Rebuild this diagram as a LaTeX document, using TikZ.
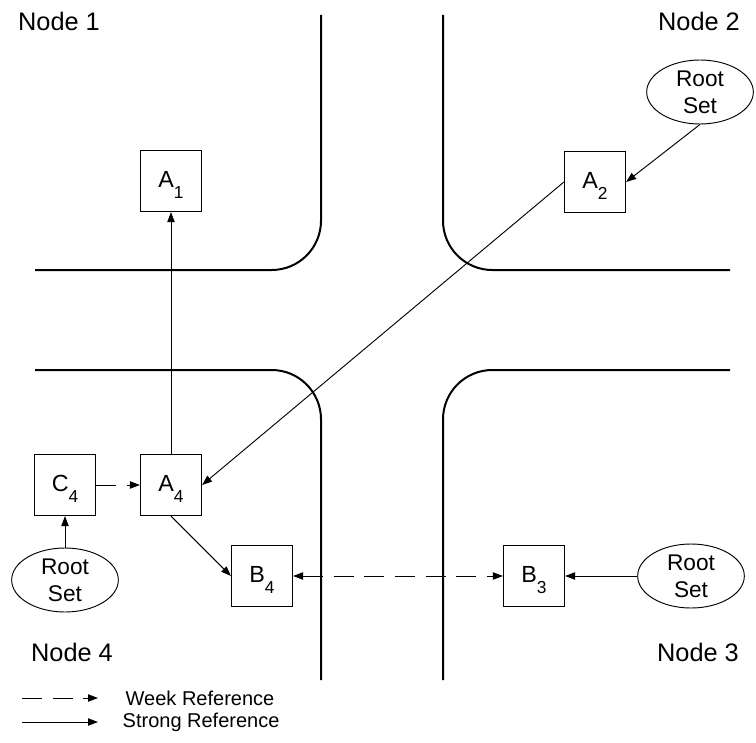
\documentclass[tikz,border=0pt]{standalone}
\usepackage{fontspec}
\setmainfont{Liberation Sans}
\usepackage{tikz}
\usetikzlibrary{arrows.meta,shapes.geometric}

\newcommand{\subidx}[1]{\raisebox{-8.5pt}{\fontsize{13}{13}\selectfont #1}}

\tikzset{
    box/.style={draw,line width=0.9pt,minimum size=45.75pt,inner sep=0pt,
        text height=14pt,text depth=5pt,font=\fontsize{17.5}{20}\selectfont},
    rootset/.style={draw,ellipse,line width=0.7pt,minimum width=80pt,
        minimum height=48pt,inner sep=0pt,align=center,
        font=\fontsize{17}{20}\selectfont},
    quadname/.style={font=\fontsize{19}{23}\selectfont},
    legendtext/.style={anchor=west,font=\fontsize{15}{18}\selectfont},
    wall/.style={line width=1.5pt,rounded corners=37pt},
    strongref/.style={line width=0.7pt,-{Triangle[length=7.5pt,width=5.5pt]}},
    weakref/.style={strongref,dash pattern=on 15pt off 8pt}
}

\begin{document}
\begin{tikzpicture}[x=0.75pt,y=-0.75pt]
    \useasboundingbox (0,0) rectangle (756,742);
    \draw[wall] (321,15) -- (321,270) -- (35,270);
    \draw[wall] (443,15) -- (443,270) -- (730,270);
    \draw[wall] (35,370) -- (321,370) -- (321,680);
    \draw[wall] (730,370) -- (443,370) -- (443,680);
    \node[quadname] (n1) at (59,21) {Node 1};
    \node[quadname] (n2) at (699,21) {Node 2};
    \node[quadname] (n3) at (698,652) {Node 3};
    \node[quadname] (n4) at (72,652) {Node 4};
    \node[box] (A1) at (171,181) {A\subidx{1}};
    \node[box] (A2) at (595,182) {A\subidx{2}};
    \node[box] (C4) at (65,485) {C\subidx{4}};
    \node[box] (A4) at (171,485) {A\subidx{4}};
    \node[box] (B4) at (262,576) {B\subidx{4}};
    \node[box] (B3) at (534,576) {B\subidx{3}};
    \node[rootset] (root2) at (700,92) {Root\\Set};
    \node[rootset] (root3) at (691,576) {Root\\Set};
    \node[rootset] (root4) at (65,580) {Root\\Set};
    \draw[strongref] (A4) -- (A1);
    \draw[strongref] (A2.west) -- (A4.east);
    \draw[strongref] (root2.south) -- (A2.east);
    \draw[strongref] (root4) -- (C4);
    \draw[weakref] (C4) -- (A4);
    \draw[strongref] (A4.south) -- (B4.west);
    \draw[weakref,{Triangle[length=7.5pt,width=5.5pt]}-{Triangle[length=7.5pt,width=5.5pt]}] (B4) -- (B3);
    \draw[strongref] (root3) -- (B3);
    \coordinate (wk0) at (22,698);
    \coordinate (wk1) at (98,698);
    \coordinate (st0) at (22,722);
    \coordinate (st1) at (98,722);
    \draw[weakref] (wk0) -- (wk1);
    \draw[strongref] (st0) -- (st1);
    \node[legendtext] (wktext) at (121,698) {Week Reference};
    \node[legendtext] (sttext) at (118,722) {Strong Reference};
\end{tikzpicture}
\end{document}
